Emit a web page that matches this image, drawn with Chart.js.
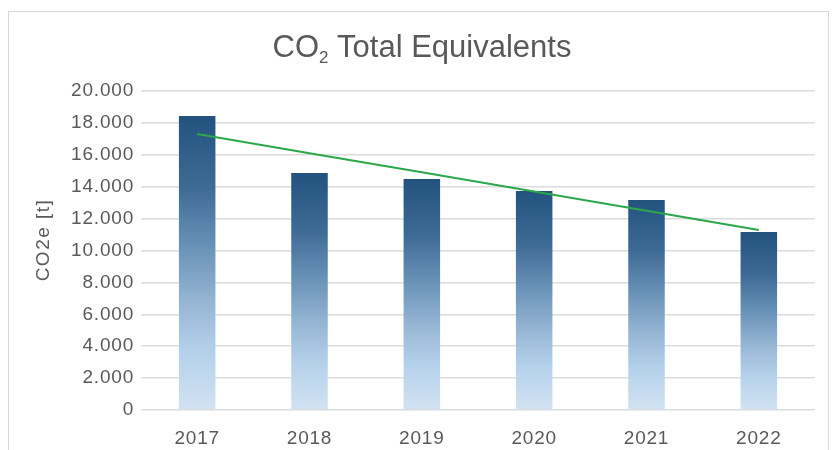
<!DOCTYPE html>
<html>
<head>
<meta charset="utf-8">
<script src="https://cdn.jsdelivr.net/npm/chart.js@4.4.1/dist/chart.umd.min.js"></script>
<style>
  body { margin: 0; background: #fff; }
  .frame { position: absolute; left: 8px; top: 11px; width: 819px; height: 460px; border: 1.5px solid #d9d9d9; }
  .wrap { position: absolute; left: 0; top: 0; width: 839px; height: 450px; }
</style>
</head>
<body>
<div class="frame"></div>
<div class="wrap"><canvas id="co2Chart" width="839" height="450"></canvas></div>
<script>
"use strict"

const years = ["2017", "2018", "2019", "2020", "2021", "2022"];
const emissions = [18430, 14860, 14480, 13730, 13170, 11160];
const trend = [17310, 16100, 14900, 13700, 12490, 11290];
const yTicks = [0, 2000, 4000, 6000, 8000, 10000, 12000, 14000, 16000, 18000, 20000];

const textColor = "#595959";
const fontFamily = "'Liberation Sans', Arial, sans-serif";

// gradient per bar, top dark -> bottom light
const barGradient = (context) => {
  const chart = context.chart;
  const yScale = chart.scales.y;
  if (!yScale || context.raw === undefined) return "#6a93b8";
  const top = yScale.getPixelForValue(context.raw);
  const bottom = yScale.getPixelForValue(0);
  if (!isFinite(top) || !isFinite(bottom) || top === bottom) return "#6a93b8";
  const g = chart.ctx.createLinearGradient(0, top, 0, bottom);
  g.addColorStop(0, "#23527f");
  g.addColorStop(0.25, "#3f6c96");
  g.addColorStop(0.45, "#6a93b8");
  g.addColorStop(0.62, "#93b3d2");
  g.addColorStop(0.8, "#b4d1ea");
  g.addColorStop(1, "#d2e2f3");
  return g;
};

// letter spacing for tick labels (Helvetica-like look)
const spacingPlugin = {
  id: "spacing",
  beforeDraw(chart) {
    chart.ctx.letterSpacing = "0.8px";
  }
};

// title with subscript 2 + rotated y axis title
const titlePlugin = {
  id: "co2Title",
  afterDraw(chart) {
    const ctx = chart.ctx;
    ctx.save();
    ctx.fillStyle = textColor;
    ctx.textBaseline = "alphabetic";
    ctx.textAlign = "left";
    ctx.letterSpacing = "0px";
    const big = "31px " + fontFamily;
    const small = "17px " + fontFamily;
    ctx.font = big;
    const w1 = ctx.measureText("CO").width;
    const w3 = ctx.measureText(" Total Equivalents").width;
    ctx.font = small;
    const w2 = ctx.measureText("2").width;
    let x = 422 - (w1 + w2 + w3) / 2;
    const y = 57;
    ctx.font = big;
    ctx.fillText("CO", x, y);
    x += w1;
    ctx.font = small;
    ctx.fillText("2", x, y + 6);
    x += w2;
    ctx.font = big;
    ctx.fillText(" Total Equivalents", x, y);

    ctx.translate(44, 240);
    ctx.rotate(-Math.PI / 2);
    ctx.textAlign = "center";
    ctx.textBaseline = "middle";
    ctx.letterSpacing = "1.5px";
    ctx.font = "19px " + fontFamily;
    ctx.fillText("CO2e [t]", 0, 0);
    ctx.restore();
  }
};

const chart = new Chart(document.querySelector("#co2Chart"), {
  data: {
    labels: years,
    datasets: [
      {
        type: "line",
        label: "Trend",
        data: trend,
        borderColor: "#2aa84a",
        borderWidth: 2,
        pointRadius: 0,
        fill: false,
        order: 0,
      },
      {
        type: "bar",
        label: "CO2e",
        data: emissions,
        backgroundColor: barGradient,
        categoryPercentage: 1,
        barPercentage: 0.325,
        order: 1,
      },
    ],
  },
  options: {
    responsive: false,
    animation: false,
    layout: { padding: { top: 91, left: 28, right: 24, bottom: 0 } },
    plugins: {
      legend: { display: false },
      title: { display: false },
      tooltip: { enabled: false },
    },
    scales: {
      x: {
        grid: { display: false },
        border: { display: false },
        ticks: {
          color: textColor,
          font: { family: fontFamily, size: 19 },
          padding: 9,
        },
        afterFit: (s) => { s.height = 40; },
      },
      y: {
        min: 0,
        max: 20000,
        afterBuildTicks: (s) => { s.ticks = yTicks.map((v) => ({ value: v })); },
        grid: { color: "#dcdcdc", lineWidth: 1.5, drawTicks: false },
        border: { display: false },
        ticks: {
          color: textColor,
          font: { family: fontFamily, size: 19 },
          padding: 7,
          callback: (v) => v.toLocaleString("de-DE"),
        },
        afterFit: (s) => { s.width = 113; },
      },
    },
  },
  plugins: [spacingPlugin, titlePlugin],
});
chart.update();
</script>
</body>
</html>
